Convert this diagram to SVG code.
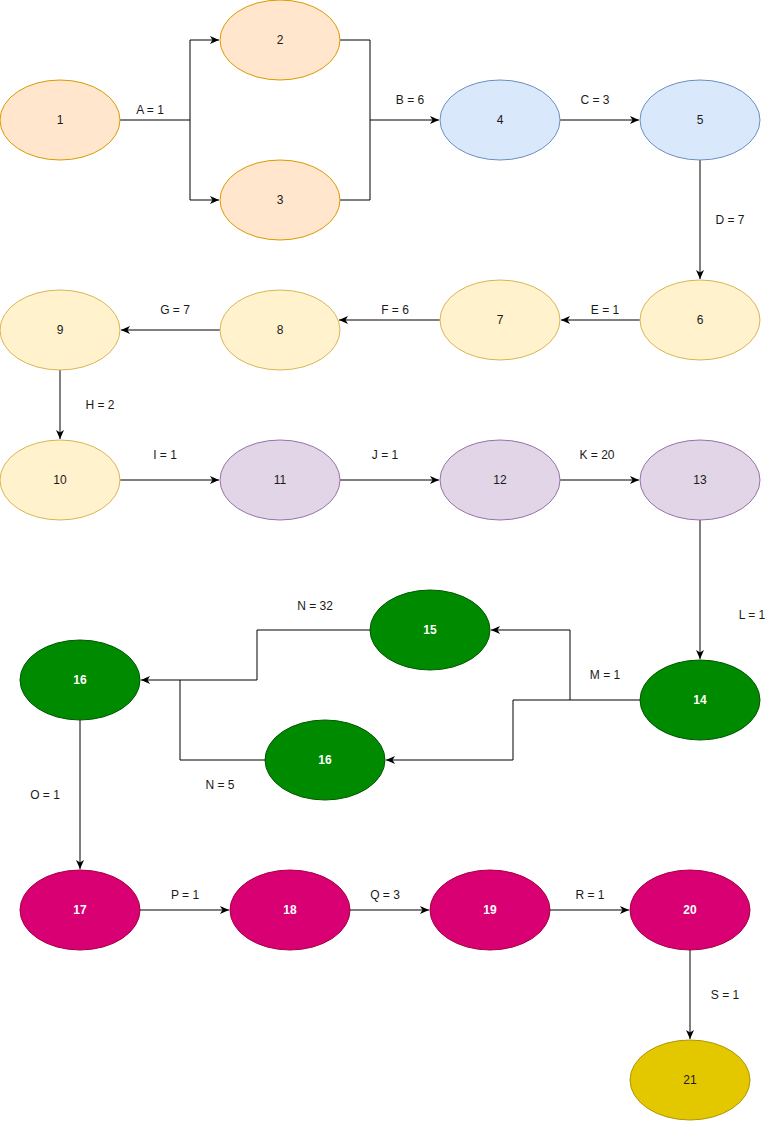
<svg xmlns="http://www.w3.org/2000/svg" width="777" height="1121" viewBox="0 0 777 1121">
<defs>
<marker id="arr" markerUnits="userSpaceOnUse" markerWidth="10" markerHeight="10" viewBox="0 0 10 10" refX="9" refY="5" orient="auto">
<path d="M0,1 L9,5 L0,9 L2.5,5 z" fill="#000"/>
</marker>
<style>
.t{font-family:"Liberation Sans",Arial,sans-serif;font-size:12px;fill:#1a1a1a;text-anchor:middle;dominant-baseline:central}
.w{font-family:"Liberation Sans",Arial,sans-serif;font-size:12px;fill:#fff;font-weight:bold;text-anchor:middle;dominant-baseline:central}
.or{fill:#ffe6cc;stroke:#d79b00}
.bl{fill:#dae8fc;stroke:#6c8ebf}
.ye{fill:#fff2cc;stroke:#d6b656}
.pu{fill:#e1d5e7;stroke:#9673a6}
.gr{fill:#008a00;stroke:#005700}
.pk{fill:#d80073;stroke:#a50040}
.gd{fill:#e3c800;stroke:#b09500}
.c path{fill:none;stroke:#000;stroke-width:1}
.a{marker-end:url(#arr)}
</style>
</defs>
<rect width="777" height="1121" fill="#fff"/>
<g class="c" id="connectors">
<path d="M120,120 H190"/>
<path class="a" d="M190,120 V40 H219"/>
<path class="a" d="M190,120 V200 H219"/>
<path d="M340,40 H370 V120"/>
<path d="M340,200 H370 V120"/>
<path class="a" d="M370,120 H439"/>
<path class="a" d="M560,120 H639"/>
<path class="a" d="M700,160 V279"/>
<path class="a" d="M640,320 H561"/>
<path class="a" d="M440,320 H339"/>
<path class="a" d="M220,330 H121"/>
<path class="a" d="M60,370 V439"/>
<path class="a" d="M120,480 H219"/>
<path class="a" d="M340,480 H439"/>
<path class="a" d="M560,480 H639"/>
<path class="a" d="M700,520 V659"/>
<path d="M640,700 H513"/>
<path class="a" d="M570,700 V630 H491"/>
<path class="a" d="M513,700 V760 H386"/>
<path d="M370,630 H257 V680"/>
<path class="a" d="M257,680 H141"/>
<path d="M265,760 H180 V680"/>
<path class="a" d="M80,720 V869"/>
<path class="a" d="M140,910 H229"/>
<path class="a" d="M350,910 H429"/>
<path class="a" d="M550,910 H629"/>
<path class="a" d="M690,950 V1039"/>
</g>
<g id="labels">
<text class="t" x="150" y="110">A = 1</text>
<text class="t" x="410" y="100">B = 6</text>
<text class="t" x="595" y="100">C = 3</text>
<text class="t" x="730" y="220">D = 7</text>
<text class="t" x="605" y="310">E = 1</text>
<text class="t" x="395" y="310">F = 6</text>
<text class="t" x="175" y="310">G = 7</text>
<text class="t" x="100" y="405">H = 2</text>
<text class="t" x="165" y="455">I = 1</text>
<text class="t" x="385" y="455">J = 1</text>
<text class="t" x="597" y="455">K = 20</text>
<text class="t" x="752" y="615">L = 1</text>
<text class="t" x="605" y="675">M = 1</text>
<text class="t" x="315" y="606">N = 32</text>
<text class="t" x="220" y="785">N = 5</text>
<text class="t" x="45" y="795">O = 1</text>
<text class="t" x="185" y="895">P = 1</text>
<text class="t" x="385" y="895">Q = 3</text>
<text class="t" x="590" y="895">R = 1</text>
<text class="t" x="725" y="995">S = 1</text>
</g>
<g id="n1"><ellipse class="or" cx="60" cy="120" rx="60" ry="40"/><text class="t" x="60" y="120">1</text></g>
<g id="n2"><ellipse class="or" cx="280" cy="40" rx="60" ry="40"/><text class="t" x="280" y="40">2</text></g>
<g id="n3"><ellipse class="or" cx="280" cy="200" rx="60" ry="40"/><text class="t" x="280" y="200">3</text></g>
<g id="n4"><ellipse class="bl" cx="500" cy="120" rx="60" ry="40"/><text class="t" x="500" y="120">4</text></g>
<g id="n5"><ellipse class="bl" cx="700" cy="120" rx="60" ry="40"/><text class="t" x="700" y="120">5</text></g>
<g id="n6"><ellipse class="ye" cx="700" cy="320" rx="60" ry="40"/><text class="t" x="700" y="320">6</text></g>
<g id="n7"><ellipse class="ye" cx="500" cy="320" rx="60" ry="40"/><text class="t" x="500" y="320">7</text></g>
<g id="n8"><ellipse class="ye" cx="280" cy="330" rx="60" ry="40"/><text class="t" x="280" y="330">8</text></g>
<g id="n9"><ellipse class="ye" cx="60" cy="330" rx="60" ry="40"/><text class="t" x="60" y="330">9</text></g>
<g id="n10"><ellipse class="ye" cx="60" cy="480" rx="60" ry="40"/><text class="t" x="60" y="480">10</text></g>
<g id="n11"><ellipse class="pu" cx="280" cy="480" rx="60" ry="40"/><text class="t" x="280" y="480">11</text></g>
<g id="n12"><ellipse class="pu" cx="500" cy="480" rx="60" ry="40"/><text class="t" x="500" y="480">12</text></g>
<g id="n13"><ellipse class="pu" cx="700" cy="480" rx="60" ry="40"/><text class="t" x="700" y="480">13</text></g>
<g id="n14"><ellipse class="gr" cx="700" cy="700" rx="60" ry="40"/><text class="w" x="700" y="700">14</text></g>
<g id="n15"><ellipse class="gr" cx="430" cy="630" rx="60" ry="40"/><text class="w" x="430" y="630">15</text></g>
<g id="n16a"><ellipse class="gr" cx="80" cy="680" rx="60" ry="40"/><text class="w" x="80" y="680">16</text></g>
<g id="n16b"><ellipse class="gr" cx="325" cy="760" rx="60" ry="40"/><text class="w" x="325" y="760">16</text></g>
<g id="n17"><ellipse class="pk" cx="80" cy="910" rx="60" ry="40"/><text class="w" x="80" y="910">17</text></g>
<g id="n18"><ellipse class="pk" cx="290" cy="910" rx="60" ry="40"/><text class="w" x="290" y="910">18</text></g>
<g id="n19"><ellipse class="pk" cx="490" cy="910" rx="60" ry="40"/><text class="w" x="490" y="910">19</text></g>
<g id="n20"><ellipse class="pk" cx="690" cy="910" rx="60" ry="40"/><text class="w" x="690" y="910">20</text></g>
<g id="n21"><ellipse class="gd" cx="690" cy="1080" rx="60" ry="40"/><text class="t" x="690" y="1080">21</text></g>
</svg>
